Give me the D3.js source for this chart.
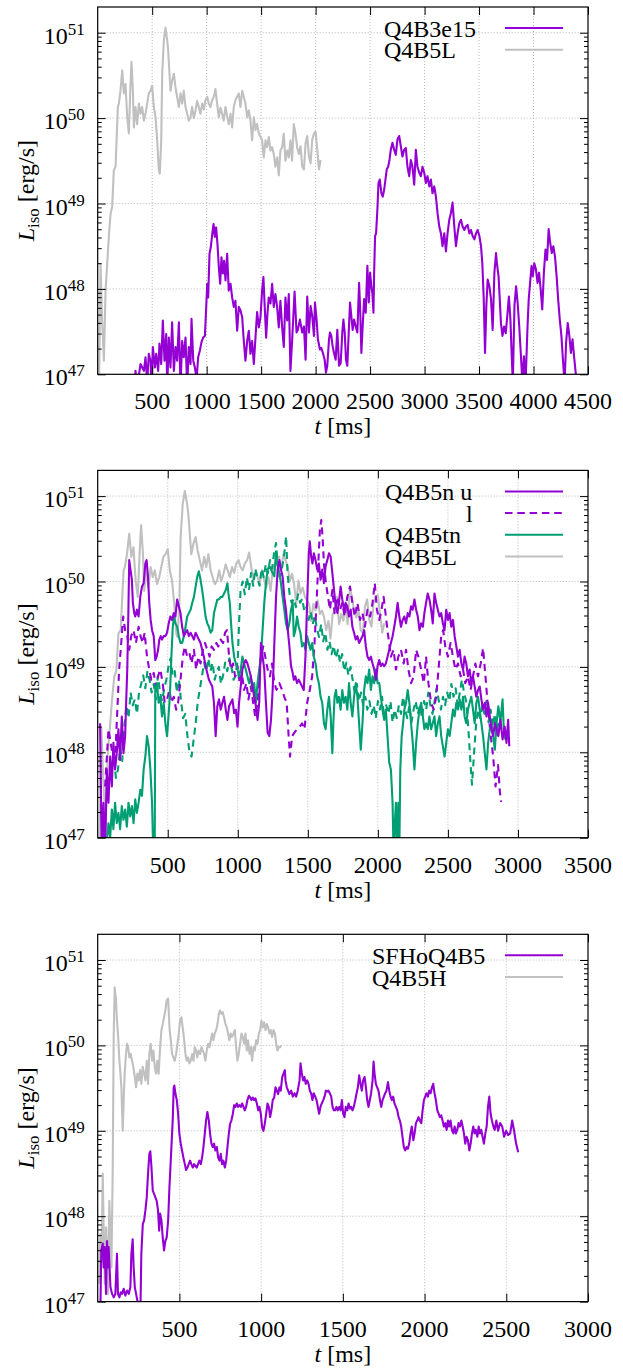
<!DOCTYPE html>
<html>
<head>
<meta charset="utf-8">
<script src="https://cdn.jsdelivr.net/npm/d3@7"></script>
<style>
  body { margin: 0; background: #fff; }
</style>
</head>
<body>
<svg id="chart" width="623" height="1370"></svg>
<script>
// Each series: [t in ms, log10 of L_iso in erg/s]
const q4b5L = [[12,46.8],[26,48.29],[41,47.63],[57,47.16],[72,47.98],[87,48.29],[102,48.61],[118,48.88],[133,48.96],[148,49.39],[164,49.43],[173,49.74],[185,50.13],[194,50.17],[209,50.32],[225,50.56],[240,50.29],[255,50.40],[271,50.01],[286,49.82],[301,50.40],[310,50.66],[323,50.32],[332,49.89],[347,50.13],[362,49.93],[378,50.17],[393,50.05],[408,50.13],[424,49.97],[439,50.05],[454,50.17],[469,50.29],[485,50.32],[500,50.38],[515,50.13],[531,50.01],[546,49.74],[561,49.39],[570,49.35],[583,49.74],[592,50.52],[607,50.91],[622,51.06],[638,50.91],[647,50.79],[659,50.52],[668,50.32],[683,50.44],[699,50.52],[714,50.36],[729,50.25],[745,50.13],[760,50.29],[775,50.17],[790,50.32],[806,50.13],[821,50.05],[836,49.97],[852,50.01],[867,50.13],[882,50.0],[898,50.09],[913,50.2],[928,50.13],[943,50.05],[959,50.17],[974,50.1],[989,50.21],[1005,50.25],[1020,50.17],[1035,50.13],[1050,50.21],[1066,50.25],[1081,50.34],[1096,50.17],[1112,50.01],[1127,50.12],[1142,50.05],[1157,49.97],[1173,50.13],[1188,50.02],[1203,49.93],[1219,50.05],[1234,49.89],[1249,50.13],[1264,50.21],[1280,50.25],[1295,50.29],[1310,50.13],[1326,50.32],[1341,50.25],[1356,50.17],[1372,50.01],[1387,50.09],[1402,49.97],[1417,49.74],[1433,50.01],[1448,49.86],[1463,49.93],[1479,49.82],[1494,49.78],[1509,49.74],[1524,49.54],[1540,49.74],[1555,49.66],[1570,49.78],[1586,49.62],[1601,49.66],[1616,49.58],[1631,49.43],[1647,49.54],[1662,49.33],[1677,49.62],[1693,49.66],[1708,49.82],[1723,49.50],[1739,49.62],[1754,49.54],[1769,49.74],[1784,49.50],[1800,49.93],[1815,49.82],[1830,49.66],[1846,49.58],[1862,49.67],[1877,49.43],[1893,49.40],[1908,49.71],[1923,49.79],[1939,49.55],[1954,49.47],[1969,49.75],[1985,49.82],[2000,49.84],[2015,49.63],[2031,49.40],[2046,49.51]];

const q4b3e15 = [[340,46.8],[347,47.04],[362,46.85],[393,47.12],[424,47.04],[439,47.2],[454,46.9],[469,47.24],[485,47.16],[494,46.85],[506,47.32],[525,47.08],[537,47.24],[555,47.04],[567,47.36],[583,47.12],[598,47.63],[613,47.16],[629,47.47],[638,46.85],[653,47.43],[668,47.08],[683,47.61],[699,47.04],[714,47.32],[729,47.16],[745,47.61],[760,46.85],[775,47.39],[790,47.2],[806,47.43],[821,46.85],[836,47.32],[852,47.12],[861,47.65],[877,47.16],[892,47.08],[908,46.95],[922,47.2],[938,47.28],[953,47.38],[968,47.43],[984,47.45],[996,47.79],[1005,48.06],[1014,47.9],[1026,48.41],[1038,48.49],[1051,48.64],[1063,48.76],[1075,48.61],[1087,48.72],[1099,48.53],[1112,48.25],[1124,48.06],[1136,48.37],[1148,48.18],[1160,48.33],[1173,48.1],[1188,48.41],[1203,47.98],[1219,48.06],[1234,47.9],[1249,47.79],[1264,47.86],[1280,47.51],[1295,47.79],[1310,47.75],[1326,47.67],[1341,47.39],[1356,47.16],[1372,47.39],[1387,47.51],[1402,47.24],[1417,47.39],[1433,47.12],[1448,47.43],[1463,47.73],[1479,47.55],[1494,47.67],[1509,47.98],[1521,48.14],[1533,47.79],[1546,47.43],[1558,47.71],[1570,47.9],[1586,47.83],[1601,48.06],[1616,47.79],[1631,47.94],[1647,47.79],[1662,47.55],[1677,47.86],[1693,47.55],[1708,47.32],[1723,47.9],[1739,47.63],[1754,47.94],[1769,47.04],[1785,47.41],[1807,47.97],[1825,47.49],[1837,47.52],[1856,47.64],[1877,47.49],[1893,47.56],[1908,47.17],[1923,47.91],[1939,47.49],[1954,47.80],[1969,47.68],[1985,47.45],[1994,47.84],[2009,47.64],[2021,47.41],[2040,47.29],[2052,47.31],[2067,47.25],[2083,47.17],[2095,47.02],[2107,47.10],[2123,47.41],[2132,47.49],[2144,47.45],[2156,47.33],[2169,47.25],[2184,47.17],[2199,47.52],[2215,47.10],[2230,47.13],[2245,47.49],[2255,47.64],[2267,47.49],[2279,47.17],[2291,47.10],[2304,47.49],[2316,47.84],[2328,47.68],[2340,47.52],[2353,47.64],[2368,47.56],[2383,47.49],[2399,48.07],[2408,47.80],[2420,47.25],[2429,47.49],[2445,47.88],[2460,47.72],[2475,48.27],[2488,47.84],[2500,48.19],[2512,48.03],[2521,47.95],[2531,47.72],[2537,48.19],[2546,48.62],[2555,48.65],[2567,48.93],[2577,49.24],[2589,49.28],[2604,49.12],[2616,49.08],[2629,49.16],[2641,49.28],[2653,49.40],[2666,49.43],[2678,49.51],[2690,49.63],[2705,49.71],[2721,49.63],[2736,49.57],[2751,49.75],[2767,49.79],[2782,49.67],[2797,49.55],[2813,49.63],[2828,49.65],[2843,49.43],[2859,49.32],[2874,49.51],[2889,49.43],[2905,49.22],[2920,49.63],[2935,49.43],[2951,49.36],[2966,49.32],[2981,49.43],[2997,49.36],[3012,49.24],[3027,49.32],[3043,49.20],[3058,49.28],[3073,49.12],[3089,49.20],[3104,49.08],[3119,48.89],[3135,48.73],[3150,48.65],[3165,48.50],[3181,48.65],[3196,48.44],[3211,48.65],[3227,48.81],[3242,48.89],[3257,49.01],[3273,48.73],[3288,48.50],[3303,48.65],[3319,48.77],[3334,48.81],[3349,48.73],[3365,48.69],[3380,48.73],[3395,48.75],[3411,48.65],[3426,48.69],[3441,48.62],[3457,48.58],[3472,48.65],[3487,48.69],[3503,48.62],[3518,48.50],[3530,48.30],[3543,47.88],[3555,47.25],[3567,47.80],[3579,48.11],[3595,48.03],[3610,47.88],[3625,47.52],[3641,48.19],[3656,48.42],[3664,48.30],[3679,48.15],[3690,47.88],[3701,47.60],[3715,47.45],[3730,47.56],[3745,47.48],[3759,47.68],[3774,47.91],[3788,47.64],[3799,47.25],[3810,46.9],[3825,47.80],[3840,48.03],[3854,47.84],[3869,47.56],[3883,47.25],[3898,46.9],[3912,47.21],[3927,46.9],[3945,47.56],[3956,47.88],[3971,48.11],[3982,48.27],[3993,48.15],[4007,48.30],[4022,48.23],[4037,48.07],[4051,48.19],[4066,47.99],[4080,47.76],[4095,48.19],[4110,48.46],[4124,48.34],[4139,48.70],[4153,48.54],[4168,48.42],[4182,48.50],[4197,48.38],[4212,48.15],[4226,47.88],[4241,47.64],[4256,47.45],[4270,47.17],[4285,46.9],[4299,47.37],[4314,47.60],[4329,47.45],[4343,47.25],[4358,47.41],[4372,47.21],[4387,47.02],[4394,46.9]];

const q4b5nU = [[17,48.34],[29,46.8],[41,47.41],[53,46.8],[65,47.80],[77,47.41],[89,47.95],[101,47.60],[112,48.11],[124,47.80],[136,47.99],[148,48.27],[160,47.91],[172,48.42],[184,47.99],[196,48.19],[203,48.58],[211,48.97],[218,49.55],[225,50.25],[234,50.14],[244,50.02],[251,49.75],[261,49.63],[268,49.59],[280,49.67],[292,49.59],[304,49.82],[316,49.94],[328,49.98],[340,50.21],[349,50.25],[359,50.06],[368,49.75],[378,49.55],[388,49.43],[400,49.36],[411,49.08],[421,49.12],[431,49.20],[440,49.32],[450,49.36],[459,49.32],[471,49.36],[483,49.36],[495,49.40],[507,49.51],[519,49.59],[531,49.55],[543,49.63],[555,49.59],[567,49.79],[579,49.71],[591,49.63],[603,49.47],[615,49.36],[627,49.40],[639,49.43],[651,49.36],[663,49.40],[675,49.36],[687,49.32],[699,49.40],[711,49.36],[722,49.32],[734,49.28],[746,49.20],[758,49.12],[770,49.01],[782,48.93],[794,48.85],[806,48.81],[818,48.77],[830,48.58],[842,48.19],[854,48.54],[866,48.62],[878,48.50],[890,48.58],[902,48.65],[914,48.50],[926,48.38],[938,48.54],[950,48.58],[962,48.62],[974,48.46],[986,48.50],[998,48.30],[1009,48.58],[1021,48.77],[1033,48.97],[1045,49.04],[1057,49.08],[1069,49.04],[1081,48.97],[1093,48.89],[1105,48.77],[1117,48.65],[1129,48.54],[1141,48.38],[1153,48.58],[1165,49.28],[1177,49.12],[1189,48.97],[1201,48.58],[1213,48.23],[1225,48.19],[1237,48.38],[1249,48.73],[1261,49.28],[1273,49.82],[1285,50.14],[1297,50.25],[1308,50.14],[1320,50.06],[1332,49.82],[1344,49.67],[1356,49.45],[1368,49.25],[1380,49.01],[1392,48.93],[1400,48.85],[1411,48.89],[1423,48.81],[1435,48.85],[1447,48.81],[1459,48.77],[1471,48.73],[1483,49.12],[1495,49.75],[1507,50.33],[1514,50.47],[1524,50.29],[1533,50.21],[1543,50.33],[1555,50.25],[1567,50.14],[1579,50.21],[1591,50.02],[1603,50.14],[1615,49.98],[1627,50.18],[1639,50.25],[1651,50.33],[1663,50.29],[1675,50.10],[1687,49.90],[1699,49.71],[1711,49.63],[1722,49.75],[1734,49.94],[1746,49.79],[1758,49.67],[1770,49.75],[1782,49.71],[1794,49.59],[1806,49.67],[1818,49.47],[1830,49.40],[1842,49.32],[1854,49.36],[1866,49.28],[1878,49.32],[1890,49.36],[1902,49.43],[1914,49.24],[1926,49.12],[1938,49.08],[1950,49.12],[1962,49.04],[1974,48.97],[1986,48.85],[1998,49.01],[2010,49.08],[2021,49.01],[2033,49.04],[2045,49.01],[2057,49.04],[2069,49.12],[2081,49.20],[2093,49.28],[2105,49.36],[2117,49.47],[2129,49.59],[2141,49.75],[2153,49.59],[2165,49.47],[2177,49.55],[2189,49.59],[2201,49.51],[2213,49.63],[2225,49.59],[2237,49.71],[2249,49.67],[2261,49.79],[2273,49.67],[2285,49.59],[2297,49.43],[2309,49.51],[2321,49.47],[2332,49.63],[2344,49.75],[2356,49.86],[2368,49.79],[2380,49.67],[2392,49.51],[2404,49.86],[2416,49.75],[2428,49.67],[2440,49.59],[2452,49.63],[2464,49.51],[2476,49.43],[2488,49.67],[2500,49.55],[2512,49.63],[2524,49.47],[2536,49.55],[2548,49.36],[2560,49.24],[2572,49.12],[2584,49.20],[2596,49.04],[2608,48.97],[2619,49.12],[2631,49.04],[2643,48.89],[2655,48.97],[2667,48.81],[2679,48.89],[2691,48.77],[2703,48.65],[2715,48.73],[2727,48.77],[2739,48.62],[2751,48.50],[2763,48.58],[2775,48.42],[2787,48.58],[2799,48.42],[2811,48.27],[2823,48.19],[2835,48.34],[2847,48.27],[2860,48.19],[2875,48.38],[2890,48.15],[2905,48.30],[2918,48.11],[2930,48.38],[2938,48.07]];

const q4b5nL = [[53,47.60],[77,48.27],[101,48.03],[124,47.91],[136,48.34],[153,48.97],[168,49.28],[182,49.59],[196,49.43],[211,49.36],[225,49.20],[239,49.36],[256,49.43],[273,49.28],[292,49.47],[306,49.36],[321,49.28],[335,49.40],[352,49.12],[368,48.97],[383,48.85],[400,48.93],[416,48.77],[431,48.89],[447,48.97],[464,48.81],[478,48.58],[495,48.62],[512,48.73],[526,48.58],[543,48.65],[560,48.50],[574,48.58],[591,48.85],[608,49.12],[622,49.24],[639,49.12],[655,49.16],[670,49.04],[687,49.20],[703,48.97],[718,49.12],[734,49.04],[751,49.20],[766,49.28],[782,49.20],[799,49.12],[813,49.24],[830,49.20],[847,49.28],[861,49.24],[878,49.32],[895,49.28],[909,49.40],[923,49.43],[938,49.12],[952,48.97],[966,49.04],[981,48.89],[998,49.01],[1014,48.81],[1029,48.93],[1045,48.73],[1062,48.81],[1076,48.62],[1093,48.77],[1110,48.58],[1124,48.42],[1141,48.58],[1153,48.97],[1167,49.12],[1182,49.24],[1196,49.12],[1213,48.97],[1230,48.89],[1244,49.04],[1261,48.81],[1277,48.73],[1297,48.81],[1316,48.73],[1332,48.65],[1349,48.58],[1363,48.19],[1373,47.95],[1388,48.19],[1404,48.23],[1423,48.27],[1443,48.30],[1459,48.34],[1476,48.27],[1495,48.58],[1514,48.73],[1531,48.89],[1548,49.28],[1562,49.75],[1577,50.29],[1586,50.60],[1596,50.72],[1605,50.53],[1615,50.21],[1629,49.98],[1644,49.82],[1658,49.67],[1675,49.90],[1691,49.63],[1711,49.82],[1730,49.67],[1746,49.75],[1763,49.59],[1782,49.82],[1801,49.94],[1818,49.75],[1835,49.59],[1854,49.75],[1873,49.55],[1890,49.63],[1907,49.47],[1926,49.67],[1945,49.59],[1962,49.75],[1978,49.98],[1993,49.67],[2010,49.55],[2026,49.67],[2041,49.82],[2057,49.59],[2074,49.36],[2093,49.12],[2112,49.20],[2129,48.97],[2146,49.12],[2165,49.20],[2184,49.04],[2201,49.20],[2218,48.97],[2237,48.81],[2256,48.89],[2273,49.20],[2289,49.12],[2309,48.97],[2328,48.81],[2344,49.12],[2361,48.81],[2380,48.58],[2399,48.50],[2416,48.65],[2433,48.97],[2452,49.36],[2466,49.43],[2481,49.24],[2500,49.12],[2519,49.28],[2536,49.12],[2553,48.97],[2572,49.04],[2591,48.89],[2608,48.97],[2624,48.81],[2643,48.89],[2662,48.73],[2679,48.89],[2696,49.04],[2715,48.89],[2734,49.04],[2751,49.22],[2768,48.89],[2787,48.50],[2806,48.19],[2823,47.95],[2840,47.60],[2858,47.85],[2870,47.55],[2880,47.42]];

const q4b5tnU = [[65,46.95],[77,47.17],[89,47.0],[101,47.33],[112,47.10],[124,47.41],[136,47.17],[148,47.29],[160,47.10],[172,47.37],[184,47.21],[196,47.33],[208,47.13],[220,47.41],[232,47.25],[244,47.37],[256,47.17],[268,47.45],[280,47.29],[292,47.41],[304,47.56],[316,47.49],[328,47.80],[340,47.95],[352,48.19],[364,48.07],[376,47.80],[388,47.41],[397,46.8],[407,46.8],[411,48.73],[423,48.81],[435,48.58],[447,48.65],[459,48.42],[471,48.58],[483,48.34],[495,48.19],[502,48.34],[512,48.58],[519,48.81],[526,49.12],[536,49.47],[545,49.59],[555,49.51],[567,49.47],[579,49.36],[591,49.28],[603,49.28],[615,49.36],[627,49.47],[639,49.59],[651,49.63],[663,49.67],[675,49.75],[687,49.82],[699,49.94],[711,50.06],[722,50.12],[734,50.02],[746,49.90],[758,49.75],[770,49.59],[782,49.51],[794,49.47],[806,49.40],[818,49.43],[830,49.63],[842,49.71],[854,49.79],[866,49.79],[878,49.82],[890,49.82],[902,49.86],[914,49.90],[926,49.98],[933,49.86],[943,49.75],[952,49.51],[962,49.28],[974,49.12],[986,49.04],[998,48.97],[1009,48.89],[1021,48.97],[1033,49.12],[1045,49.04],[1057,48.97],[1069,48.89],[1081,48.81],[1093,48.89],[1105,48.73],[1117,48.81],[1129,48.58],[1141,48.81],[1153,48.97],[1165,49.12],[1177,49.43],[1189,49.75],[1201,49.98],[1213,50.14],[1225,50.18],[1237,50.14],[1249,50.10],[1261,50.06],[1273,50.35],[1285,50.18],[1297,50.10],[1308,49.98],[1320,49.82],[1332,49.67],[1344,49.51],[1356,49.43],[1368,49.51],[1380,49.67],[1392,49.75],[1400,49.36],[1411,49.43],[1423,49.59],[1435,49.47],[1447,49.40],[1459,49.24],[1471,49.28],[1483,49.20],[1495,49.36],[1507,49.28],[1519,49.20],[1531,49.28],[1543,49.12],[1555,49.04],[1567,48.89],[1579,48.81],[1591,48.65],[1603,48.58],[1615,48.34],[1627,48.27],[1639,48.50],[1651,48.65],[1663,48.42],[1675,47.99],[1682,48.34],[1691,48.65],[1701,48.73],[1711,48.58],[1722,48.65],[1734,48.50],[1746,48.73],[1758,48.58],[1770,48.65],[1782,48.50],[1794,48.81],[1806,48.58],[1818,48.42],[1830,48.65],[1842,48.81],[1854,48.65],[1866,48.34],[1878,48.03],[1890,48.34],[1902,48.73],[1914,48.89],[1926,48.81],[1938,48.97],[1950,48.73],[1962,48.89],[1974,48.81],[1986,48.97],[1998,48.81],[2010,48.81],[2021,48.65],[2033,48.50],[2045,48.38],[2057,48.50],[2069,48.19],[2081,47.88],[2093,47.80],[2105,47.41],[2112,46.8],[2122,47.21],[2129,47.41],[2136,46.8],[2146,47.41],[2153,46.8],[2160,47.80],[2170,48.19],[2180,48.34],[2189,48.50],[2201,48.58],[2213,48.73],[2225,48.58],[2237,48.34],[2249,48.11],[2261,47.80],[2273,48.11],[2285,48.34],[2297,48.50],[2309,48.58],[2321,48.42],[2332,48.27],[2344,48.34],[2356,48.27],[2368,48.42],[2380,48.27],[2392,48.34],[2404,48.42],[2416,48.19],[2428,48.34],[2440,48.42],[2452,48.19],[2464,48.07],[2476,47.95],[2488,48.11],[2500,48.27],[2512,48.19],[2524,48.34],[2536,48.50],[2548,48.42],[2560,48.58],[2572,48.50],[2584,48.62],[2596,48.50],[2608,48.65],[2619,48.42],[2631,48.34],[2643,48.50],[2655,48.58],[2667,48.65],[2679,48.50],[2691,48.34],[2703,48.58],[2715,48.65],[2727,48.50],[2739,48.34],[2751,48.19],[2763,47.99],[2775,47.80],[2787,48.11],[2799,48.27],[2811,48.34],[2823,48.19],[2835,48.03],[2847,48.34],[2860,48.54],[2875,48.35],[2890,48.62],[2900,48.23],[2910,48.15]];

const q4b5tnL = [[100,47.85],[115,47.95],[130,47.70],[145,47.80],[160,48.05],[175,47.90],[190,48.30],[205,48.55],[220,48.40],[235,48.70],[250,48.55],[265,48.62],[280,48.45],[295,48.70],[310,48.80],[325,48.90],[340,48.75],[355,48.95],[370,48.85],[385,48.70],[400,48.80],[415,48.62],[430,48.90],[445,48.70],[460,48.60],[475,48.75],[490,48.85],[505,49.00],[520,49.10],[535,48.90],[550,48.95],[565,48.70],[580,48.85],[595,48.60],[610,48.40],[625,48.45],[640,48.20],[655,48.00],[670,47.95],[685,48.15],[700,48.35],[715,48.60],[730,48.75],[745,48.90],[760,49.05],[775,48.95],[790,49.10],[805,48.95],[820,49.05],[835,48.85],[850,48.95],[865,49.00],[880,48.80],[895,48.90],[910,49.05],[925,48.95],[940,49.10],[955,49.00],[970,48.85],[985,48.90],[1000,49.10],[1010,49.55],[1020,49.90],[1035,50.00],[1050,49.85],[1065,50.05],[1080,49.90],[1095,50.10],[1110,49.95],[1125,50.15],[1140,50.05],[1155,49.95],[1170,50.15],[1185,50.05],[1200,50.20],[1215,50.10],[1230,50.25],[1245,50.15],[1260,50.35],[1273,50.45],[1285,50.20],[1300,50.05],[1315,50.15],[1330,50.30],[1345,50.53],[1355,50.10],[1370,49.85],[1385,49.75],[1400,49.80],[1415,49.70],[1430,49.85],[1445,49.75],[1460,49.80],[1475,49.65],[1490,49.70],[1505,49.55],[1520,49.65],[1535,49.50],[1550,49.60],[1565,49.45],[1580,49.35],[1595,49.50],[1610,49.30],[1625,49.40],[1640,49.20],[1655,49.30],[1670,49.15],[1685,49.25],[1700,49.10],[1715,49.20],[1730,49.05],[1745,49.15],[1760,48.95],[1775,49.05],[1790,48.90],[1805,49.00],[1820,48.85],[1835,48.70],[1850,48.80],[1865,48.60],[1880,48.70],[1895,48.55],[1910,48.65],[1925,48.50],[1940,48.60],[1955,48.45],[1970,48.55],[1985,48.40],[2000,48.60],[2015,48.50],[2030,48.65],[2045,48.40],[2060,48.55],[2075,48.45],[2090,48.60],[2105,48.35],[2120,48.50],[2135,48.40],[2150,48.55],[2165,48.45],[2180,48.65],[2195,48.50],[2210,48.40],[2225,48.55],[2240,48.35],[2255,48.50],[2270,48.60],[2285,48.45],[2300,48.55],[2315,48.40],[2330,48.60],[2345,48.50],[2360,48.70],[2375,48.55],[2390,48.45],[2405,48.60],[2420,48.75],[2435,48.60],[2450,48.50],[2465,48.65],[2480,48.55],[2495,48.70],[2510,48.60],[2525,48.80],[2540,48.65],[2555,48.75],[2570,48.55],[2585,48.70],[2600,48.85],[2615,48.70],[2630,48.60],[2645,48.30],[2660,47.90],[2672,47.62],[2685,47.95],[2700,48.30],[2715,48.50],[2730,48.40],[2745,48.55],[2760,48.45],[2775,48.60],[2790,48.35],[2805,48.50],[2820,48.30],[2835,48.45],[2850,48.20],[2860,48.35]];

const sfhoQ4B5 = [[16,46.85],[22,47.60],[31,47.68],[37,47.40],[43,47.64],[51,47.09],[57,47.71],[63,47.40],[67,47.64],[78,47.17],[88,47.09],[98,47.05],[108,47.09],[118,47.56],[124,47.09],[133,47.05],[141,47.11],[149,47.09],[159,47.15],[169,47.07],[180,47.13],[190,47.09],[200,47.17],[206,47.56],[214,47.73],[220,47.40],[227,47.17],[235,47.09],[243,47.01],[251,46.85],[261,46.85],[267,47.56],[276,47.91],[284,47.95],[292,48.07],[300,48.22],[308,48.50],[316,48.73],[322,48.76],[329,48.57],[337,48.30],[345,48.26],[353,48.22],[361,48.18],[369,48.07],[376,47.83],[382,48.03],[390,47.95],[398,47.75],[406,47.60],[414,47.71],[422,47.75],[431,47.95],[439,48.34],[445,48.57],[451,48.81],[459,49.12],[465,49.51],[469,49.53],[476,49.43],[484,49.36],[492,49.20],[500,48.96],[508,48.85],[516,48.77],[524,48.69],[533,48.61],[541,48.54],[549,48.57],[557,48.61],[565,48.65],[573,48.61],[582,48.57],[590,48.61],[598,48.59],[606,48.57],[614,48.61],[622,48.65],[631,48.61],[639,48.69],[647,48.81],[655,48.96],[663,49.12],[671,49.22],[680,49.12],[688,48.96],[696,48.85],[704,48.81],[712,48.85],[720,48.77],[729,48.81],[737,48.69],[745,48.65],[753,48.73],[761,48.61],[769,48.65],[778,48.57],[786,48.65],[794,48.81],[802,48.96],[810,49.08],[818,49.12],[827,49.20],[835,49.30],[843,49.28],[851,49.32],[859,49.28],[867,49.30],[876,49.28],[884,49.32],[892,49.28],[900,49.24],[908,49.28],[916,49.36],[925,49.41],[933,49.39],[941,49.36],[949,49.39],[957,49.36],[965,49.38],[974,49.32],[982,49.24],[990,49.28],[998,49.20],[1006,49.04],[1014,49.00],[1022,49.08],[1031,49.20],[1039,49.32],[1047,49.28],[1055,49.16],[1063,49.24],[1071,49.36],[1080,49.39],[1088,49.51],[1096,49.47],[1104,49.43],[1112,49.51],[1120,49.47],[1129,49.63],[1137,49.67],[1145,49.71],[1149,49.59],[1157,49.51],[1165,49.47],[1173,49.43],[1184,49.47],[1194,49.40],[1204,49.44],[1214,49.40],[1224,49.47],[1235,49.59],[1241,49.79],[1249,49.67],[1257,49.59],[1265,49.63],[1273,49.55],[1282,49.59],[1290,49.55],[1298,49.47],[1306,49.44],[1314,49.36],[1322,49.44],[1331,49.40],[1339,49.36],[1347,49.28],[1355,49.20],[1363,49.28],[1371,49.32],[1380,49.36],[1388,49.40],[1396,49.47],[1404,49.46],[1412,49.47],[1420,49.44],[1429,49.40],[1437,49.28],[1445,49.24],[1453,49.24],[1461,49.28],[1469,49.24],[1478,49.28],[1486,49.24],[1494,49.36],[1502,49.20],[1510,49.16],[1518,49.28],[1527,49.24],[1535,49.32],[1543,49.26],[1551,49.28],[1559,49.24],[1567,49.28],[1576,49.36],[1584,49.44],[1592,49.51],[1600,49.65],[1608,49.55],[1616,49.47],[1624,49.59],[1633,49.63],[1641,49.51],[1649,49.36],[1657,49.28],[1665,49.36],[1673,49.44],[1682,49.59],[1688,49.81],[1694,49.67],[1702,49.55],[1710,49.51],[1718,49.47],[1727,49.36],[1735,49.28],[1743,49.36],[1751,49.40],[1759,49.44],[1767,49.47],[1776,49.57],[1784,49.47],[1792,49.40],[1800,49.36],[1808,49.40],[1816,49.32],[1825,49.28],[1833,49.24],[1841,49.16],[1849,49.12],[1857,49.05],[1865,48.93],[1873,48.81],[1882,48.77],[1890,48.81],[1898,48.79],[1906,48.85],[1914,48.97],[1922,49.05],[1931,48.89],[1939,48.97],[1947,49.09],[1955,49.12],[1963,49.16],[1971,49.12],[1980,49.09],[1988,49.24],[1996,49.36],[2004,49.40],[2012,49.44],[2020,49.40],[2029,49.47],[2037,49.44],[2045,49.51],[2053,49.55],[2061,49.44],[2069,49.36],[2078,49.24],[2086,49.20],[2094,49.16],[2102,49.18],[2110,49.12],[2118,49.05],[2127,49.09],[2135,49.01],[2143,49.12],[2151,49.05],[2159,49.12],[2167,49.01],[2176,48.97],[2184,49.05],[2192,48.97],[2200,49.01],[2208,49.09],[2216,49.05],[2225,49.12],[2233,49.05],[2241,48.97],[2249,48.85],[2257,48.93],[2265,48.89],[2274,48.77],[2282,48.85],[2290,48.97],[2298,49.05],[2306,48.97],[2314,49.01],[2323,48.93],[2331,49.05],[2339,48.97],[2347,49.01],[2355,48.93],[2363,48.85],[2372,48.97],[2380,49.05],[2388,49.28],[2396,49.40],[2404,49.20],[2412,49.12],[2421,49.05],[2429,49.01],[2439,49.12],[2450,49.0],[2462,49.09],[2475,49.05],[2487,48.93],[2499,49.0],[2511,48.95],[2524,48.97],[2536,49.12],[2548,49.0],[2560,48.85],[2573,48.75]];

const q4b5H = [[10,47.21],[16,47.79],[22,47.40],[31,48.50],[37,47.79],[43,47.21],[51,47.87],[57,47.60],[63,47.09],[71,48.18],[78,47.79],[84,47.40],[92,48.57],[98,50.14],[104,50.68],[112,50.53],[118,50.29],[124,50.14],[133,49.82],[139,49.67],[145,49.51],[153,49.00],[159,49.36],[165,49.67],[173,49.90],[180,50.02],[186,49.98],[194,49.86],[202,49.90],[210,49.82],[218,49.75],[227,49.63],[235,49.51],[243,49.67],[251,49.59],[259,49.71],[267,49.55],[275,49.75],[284,49.67],[292,49.59],[300,49.82],[308,49.55],[316,49.90],[324,50.02],[333,49.82],[341,49.94],[349,49.75],[357,49.67],[365,49.82],[373,49.67],[382,49.98],[390,50.18],[398,50.25],[406,50.33],[414,50.41],[422,50.53],[431,50.55],[439,50.21],[447,50.06],[455,49.90],[463,49.86],[471,49.82],[480,49.90],[488,50.02],[496,50.14],[504,50.29],[512,50.33],[520,50.21],[529,50.06],[537,49.90],[545,49.82],[553,49.86],[561,49.79],[569,49.82],[578,49.90],[586,49.82],[594,49.98],[602,49.94],[610,49.86],[618,49.94],[627,49.90],[635,49.98],[643,49.94],[651,49.90],[659,49.82],[667,49.94],[676,50.02],[684,49.98],[692,50.06],[700,50.14],[708,50.06],[716,50.14],[725,50.18],[733,50.25],[741,50.37],[749,50.41],[757,50.37],[765,50.39],[773,50.33],[782,50.25],[790,50.21],[798,50.14],[806,50.06],[814,50.14],[822,50.10],[831,50.14],[839,50.18],[847,49.98],[855,49.82],[863,49.90],[871,50.02],[880,50.14],[888,50.10],[896,50.02],[904,50.14],[912,49.94],[920,50.06],[929,49.90],[937,49.98],[945,49.82],[953,49.98],[961,49.94],[969,50.06],[978,50.02],[986,50.14],[994,50.18],[1002,50.29],[1010,50.21],[1018,50.27],[1027,50.18],[1035,50.25],[1043,50.21],[1051,50.14],[1059,50.18],[1067,50.10],[1076,50.18],[1084,50.14],[1092,50.02],[1100,49.94],[1108,49.98],[1116,49.98],[1122,50.00]];

const xTicks1 = [500, 1000, 1500, 2000, 2500, 3000, 3500, 4000, 4500];
const xTicks2 = [500, 1000, 1500, 2000, 2500, 3000, 3500];
const xTicks3 = [500, 1000, 1500, 2000, 2500, 3000];
const yDecades = [1e47, 1e48, 1e49, 1e50, 1e51];
const yMinorMantissa = [2, 3, 4, 5, 6, 7, 8, 9];

const purple = "#9400d3", green = "#009e73", grey = "#c0c0c0";
const serif = "'Liberation Serif', 'DejaVu Serif', 'Noto Serif', serif";

const left = 97.7, right = 588, plotH = 367.3;

const panels = [
  { top: 7, xMax: 4500, xTicks: xTicks1,
    series: [
      { data: q4b5L, color: grey },
      { data: q4b3e15, color: purple }
    ],
    key: [
      { label: "Q4B3e15", color: purple, x: 384 },
      { label: "Q4B5L", color: grey, x: 384 }
    ] },
  { top: 470.4, xMax: 3500, xTicks: xTicks2,
    series: [
      { data: q4b5L, color: grey },
      { data: q4b5tnL, color: green, dash: true },
      { data: q4b5nL, color: purple, dash: true },
      { data: q4b5tnU, color: green },
      { data: q4b5nU, color: purple }
    ],
    key: [
      { label: "Q4B5n u", color: purple, x: 385 },
      { label: "l", color: purple, x: 466, dash: true },
      { label: "Q4B5tn", color: green, x: 385 },
      { label: "Q4B5L", color: grey, x: 385 }
    ] },
  { top: 934.3, xMax: 3000, xTicks: xTicks3,
    series: [
      { data: q4b5H, color: grey },
      { data: sfhoQ4B5, color: purple }
    ],
    key: [
      { label: "SFHoQ4B5", color: purple, x: 372 },
      { label: "Q4B5H", color: grey, x: 372 }
    ] }
];

const svg = d3.select("#chart").attr("font-family", serif);
svg.append("rect").attr("width", 623).attr("height", 1370).attr("fill", "#fff");

const yMinor = [];
yDecades.forEach(d => yMinorMantissa.forEach(m => { if (m * d < 2e51) yMinor.push(m * d); }));

panels.forEach((p, i) => {
  const bottom = p.top + plotH;
  const x = d3.scaleLinear().domain([0, p.xMax]).range([left, right]);
  const y = d3.scaleLog().domain([1e47, 2e51]).range([bottom, p.top]);
  const g = svg.append("g");

  g.append("clipPath").attr("id", "clip" + i)
    .append("rect").attr("x", left).attr("y", p.top)
    .attr("width", right - left).attr("height", plotH);

  // grid
  g.selectAll(".gx").data(p.xTicks.filter(d => d < p.xMax)).join("line")
    .attr("x1", d => x(d)).attr("x2", d => x(d))
    .attr("y1", p.top).attr("y2", bottom)
    .attr("stroke", "#b0b0b0").attr("stroke-width", 0.9).attr("stroke-dasharray", "1,2");
  g.selectAll(".gy").data(yDecades.slice(1)).join("line")
    .attr("x1", left).attr("x2", right)
    .attr("y1", d => y(d)).attr("y2", d => y(d))
    .attr("stroke", "#b0b0b0").attr("stroke-width", 0.9).attr("stroke-dasharray", "1,2");

  // curves
  const line = d3.line().x(d => x(d[0])).y(d => y(Math.pow(10, d[1])));
  const plot = g.append("g").attr("clip-path", `url(#clip${i})`);
  p.series.forEach(s => {
    plot.append("path").datum(s.data)
      .attr("d", line)
      .attr("fill", "none")
      .attr("stroke", s.color)
      .attr("stroke-width", 2.1)
      .attr("stroke-linejoin", "round")
      .attr("stroke-dasharray", s.dash ? "7,5" : null);
  });

  // ticks, pointing inward on all four sides
  const noLab = () => "";
  const tickAxis = (axis, tr) => g.append("g").attr("transform", tr)
    .call(axis.tickFormat(noLab))
    .call(a => a.select(".domain").remove());
  tickAxis(d3.axisBottom(x).tickValues(p.xTicks).tickSize(-8), `translate(0,${bottom})`);
  tickAxis(d3.axisTop(x).tickValues(p.xTicks).tickSize(-8), `translate(0,${p.top})`);
  tickAxis(d3.axisLeft(y).tickValues(yDecades).tickSize(-8), `translate(${left},0)`);
  tickAxis(d3.axisLeft(y).tickValues(yMinor).tickSize(-4), `translate(${left},0)`);
  tickAxis(d3.axisRight(y).tickValues(yDecades).tickSize(-8), `translate(${right},0)`);
  tickAxis(d3.axisRight(y).tickValues(yMinor).tickSize(-4), `translate(${right},0)`);

  // frame
  g.append("rect").attr("x", left).attr("y", p.top)
    .attr("width", right - left).attr("height", plotH)
    .attr("fill", "none").attr("stroke", "#000").attr("stroke-width", 1.2);

  // tick labels
  g.selectAll(".xl").data(p.xTicks).join("text")
    .attr("font-family", serif)
    .attr("x", d => x(d)).attr("y", bottom + 35)
    .attr("text-anchor", "middle").attr("font-size", 24)
    .text(d => d);
  g.selectAll(".yl").data(yDecades).join("text")
    .attr("font-family", serif)
    .attr("x", left - 13).attr("y", d => y(d) + 11)
    .attr("text-anchor", "end").attr("font-size", 24)
    .each(function (d) {
      const t = d3.select(this);
      t.append("tspan").text("10");
      t.append("tspan").attr("dy", -9).attr("font-size", 17).text(Math.round(Math.log10(d)));
    });

  // axis titles
  const xt = g.append("text").attr("font-family", serif)
    .attr("x", (left + right) / 2).attr("y", bottom + 60)
    .attr("text-anchor", "middle").attr("font-size", 24);
  xt.append("tspan").attr("font-style", "italic").text("t");
  xt.append("tspan").text(" [ms]");

  const yt = g.append("text").attr("font-family", serif)
    .attr("transform", `translate(34,${p.top + plotH / 2}) rotate(-90)`)
    .attr("text-anchor", "middle").attr("font-size", 24);
  yt.append("tspan").attr("font-style", "italic").text("L");
  yt.append("tspan").attr("font-size", 17).attr("dy", 5).text("iso");
  yt.append("tspan").attr("dy", -5).text(" [erg/s]");

  // key
  p.key.forEach((k, j) => {
    const ky = p.top + 21 + j * 21.7;
    g.append("line").attr("x1", 505).attr("x2", 563).attr("y1", ky).attr("y2", ky)
      .attr("stroke", k.color).attr("stroke-width", 2)
      .attr("stroke-dasharray", k.dash ? "7.5,4.8" : null);
    g.append("text").attr("font-family", serif)
      .attr("x", k.x).attr("y", ky + 8.5).attr("font-size", 24).text(k.label);
  });
});
</script>
</body>
</html>
